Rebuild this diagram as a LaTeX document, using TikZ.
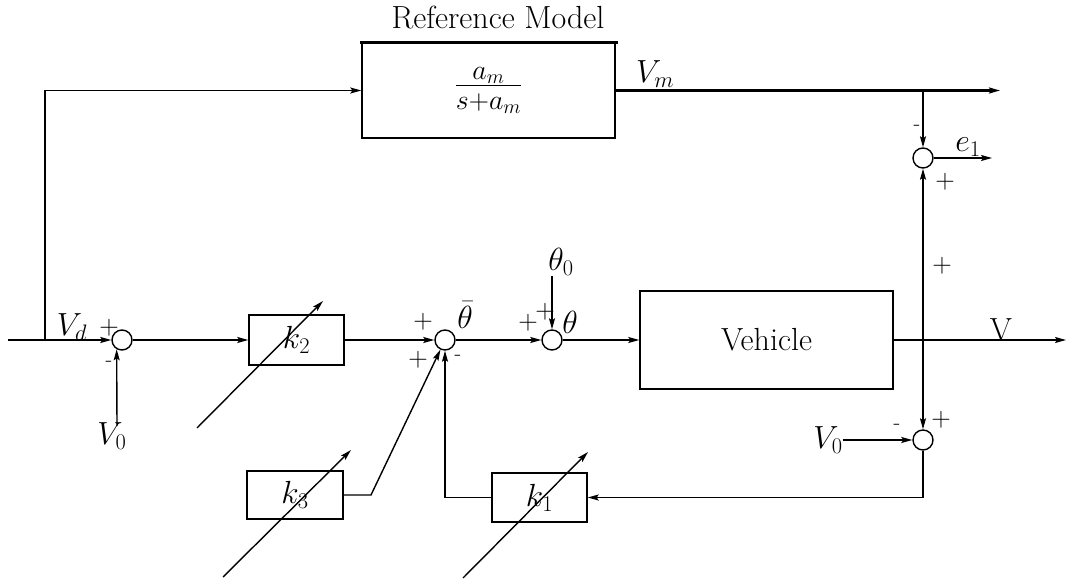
\RequirePackage{fix-cm}
\documentclass[tikz,border=0pt]{standalone}
\usetikzlibrary{arrows.meta}
\begin{document}
\begin{tikzpicture}[x=1pt,y=-1pt,
  every node/.style={font=\fontsize{32}{38}\selectfont},
  ln/.style={line width=1.4pt},
  ar/.style={ln,-{Stealth[length=11pt,width=6pt,inset=2pt]}},
  blk/.style={draw,line width=1.4pt,inner sep=0pt,rectangle},
  sumc/.style={draw,circle,line width=1.4pt,minimum size=20pt,inner sep=0pt},
  lbl/.style={inner sep=0pt},
  pl/.style={inner sep=0pt,font=\fontsize{27}{32}\selectfont},
  mi/.style={inner sep=0pt,font=\fontsize{22}{26}\selectfont}]
\useasboundingbox (0,0) rectangle (1068,580);
% blocks
\node[lbl] (title) at (498,18) {Reference Model};
\node[blk,minimum width=253pt,minimum height=95pt,font=\fontsize{40}{46}\selectfont] (rm) at (488.5,90.5) {$\frac{a_m}{s+a_m}$};
\draw[line width=2.6pt] ([xshift=-1pt]rm.north west) -- ([xshift=2pt]rm.north east);
\node[blk,minimum width=253pt,minimum height=98pt] (veh) at (766.5,340) {Vehicle};
\node[blk,minimum width=95pt,minimum height=50pt] (k2) at (296.5,340) {$k_2$};
\node[blk,minimum width=96pt,minimum height=48pt] (k3) at (295,495) {$k_3$};
\node[blk,minimum width=95pt,minimum height=49pt] (k1) at (539.5,497.5) {$k_1$};
% summing junctions
\node[sumc] (s1) at (122,340) {};
\node[sumc] (s2) at (445,340) {};
\node[sumc] (s3) at (552,340) {};
\node[sumc] (se) at (923,158) {};
\node[sumc] (sv) at (923,440) {};
% labels
\node[lbl] (vd) at (72,327) {$V_d$};
\node[pl] (p1) at (109,328) {+};
\node[mi] (m1) at (109,364) {-};
\node[lbl] (v0a) at (112,436) {$V_0$};
\node[pl] (p2) at (423,322) {+};
\node[pl] (p3) at (418,360) {+};
\node[mi] (m2) at (458,358) {-};
\node[lbl] (thb) at (465,315) {$\bar\theta$};
\node[pl] (p4) at (528,323) {+};
\node[pl] (p5) at (545,312) {+};
\node[lbl] (th) at (570,322) {$\theta$};
\node[lbl] (th0) at (561,262) {$\theta_0$};
\node[lbl] (vm) at (655,74) {$V_m$};
\node[mi] (m3) at (917,128) {-};
\node[lbl] (e1) at (968,147) {$e_1$};
\node[pl] (p6) at (945,182) {+};
\node[pl] (p7) at (942,266) {+};
\node[lbl] (vout) at (1001,330) {V};
\node[lbl] (v0b) at (828,440) {$V_0$};
\node[mi] (m4) at (897,427) {-};
\node[pl] (p8) at (941,420) {+};
% coordinates
\coordinate (in) at (8,340);
\coordinate (jl) at (45,340);
\coordinate (vmend) at (1000,90.5);
\coordinate (jv) at (923,90.5);
\coordinate (e1end) at (992,158);
\coordinate (vend) at (1066,340);
\coordinate (jo) at (923,340);
\coordinate (k3b) at (371,495);
\coordinate (v0at) at (117,426);
% connectors
\draw[ar] (in) -- (s1);
\draw[ar] (jl) |- (rm.west);
\draw[ar,line width=2.2pt] (rm.east) -- (vmend);
\draw[ar] (jv) -- (se);
\draw[ar] (se) -- (e1end);
\draw[ar] (veh.east) -- (vend);
\draw[ar] (jo) -- (se);
\draw[ar] (jo) -- (sv);
\draw[ar] (v0b) -- (sv);
\draw[ar] (sv) |- (k1.east);
\draw[ar] (k1.west) -| (s2);
\draw[ar] (k3.east) -- (k3b) -- (s2);
\draw[ar] (s1) -- (k2);
\draw[ar] (k2) -- (s2);
\draw[ar] (s2) -- (s3);
\draw[ar] (s3) -- (veh);
\draw[ar] (s3 |- th0.south) -- (s3);
\draw[ar] (v0at) -- (s1.-120);
% adjustable-gain arrows
\coordinate (a2s) at (197,428); \coordinate (a2e) at (323,301);
\coordinate (a3s) at (223,577); \coordinate (a3e) at (351,450);
\coordinate (a1s) at (463,578); \coordinate (a1e) at (588,452);
\draw[ar] (a2s) -- (a2e);
\draw[ar] (a3s) -- (a3e);
\draw[ar] (a1s) -- (a1e);
\end{tikzpicture}
\end{document}
